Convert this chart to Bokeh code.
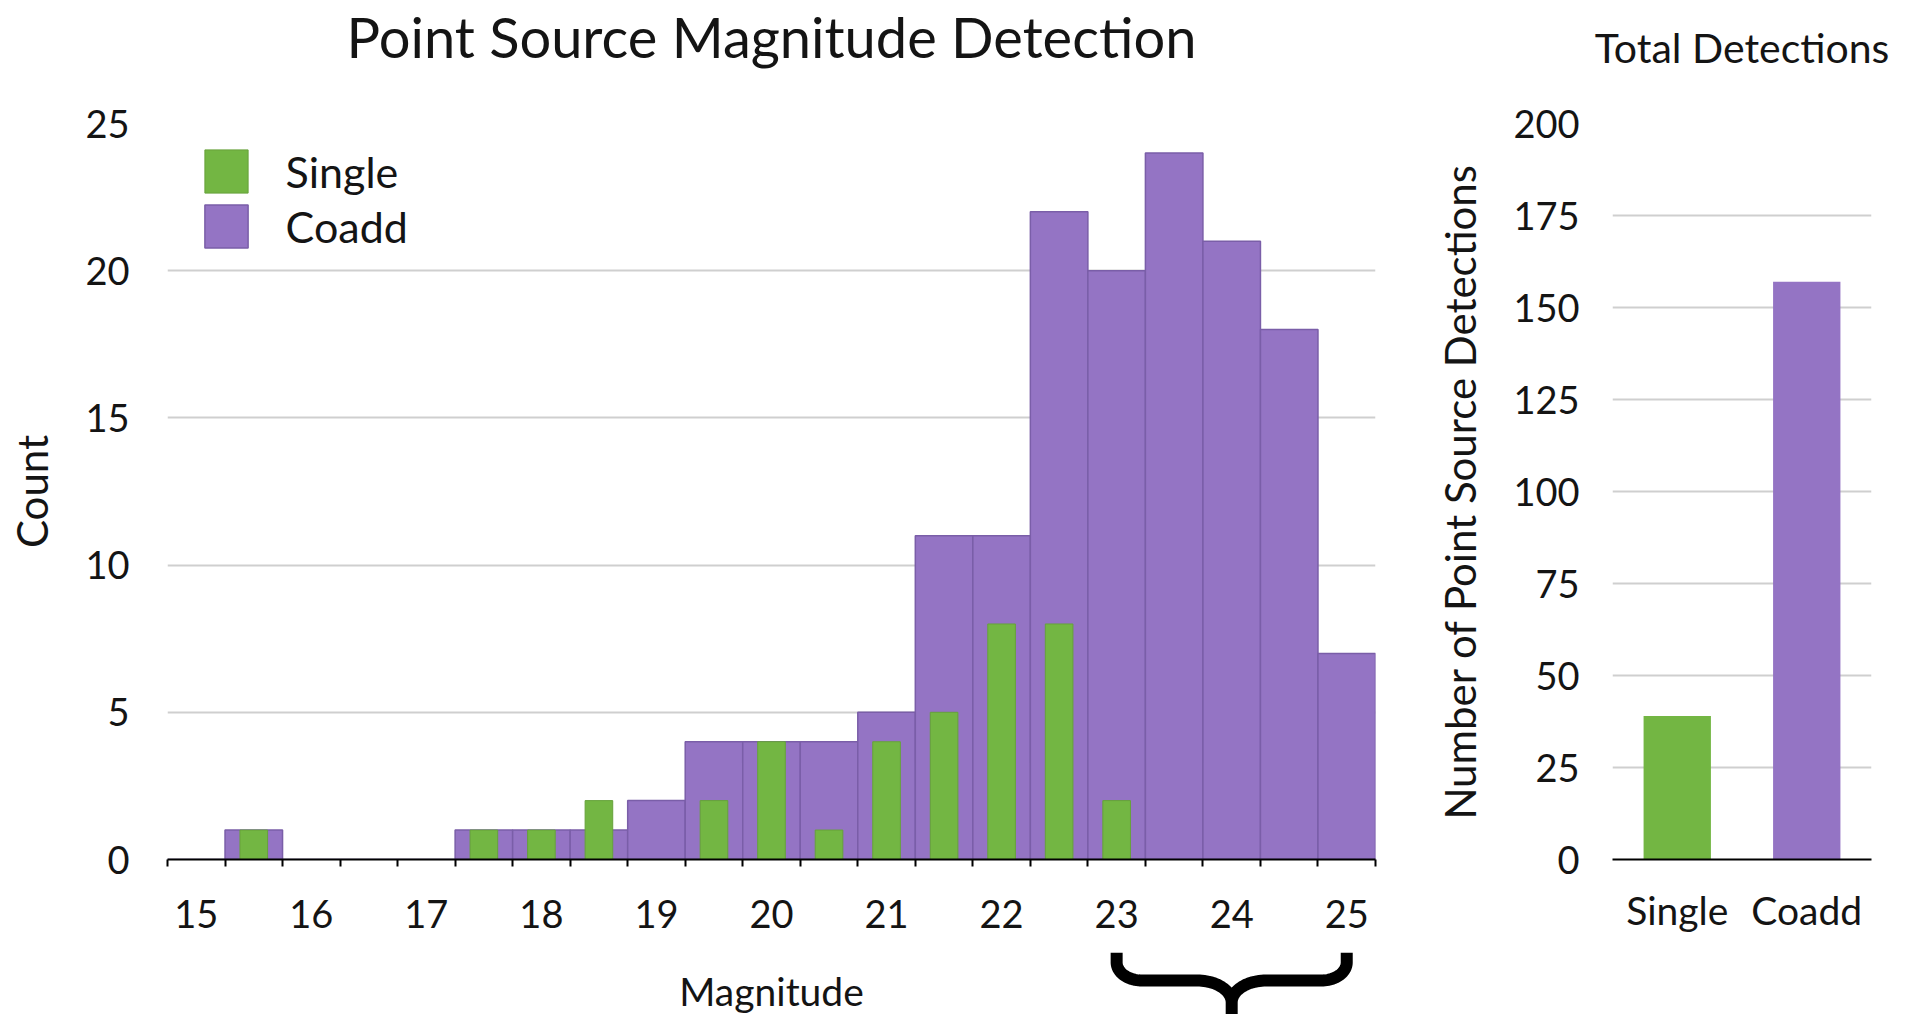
import numpy as np
from bokeh.plotting import figure
from bokeh.models import (Range1d, FactorRange, FixedTicker, Legend, LegendItem,
                          ColumnDataSource, Title)
from bokeh.core.properties import value
from bokeh.layouts import row, column
from bokeh.embed import file_html
from bokeh.resources import INLINE

# ---------------- data ----------------
magnitude = [15.0, 15.5, 16.0, 16.5, 17.0, 17.5, 18.0, 18.5, 19.0, 19.5, 20.0,
             20.5, 21.0, 21.5, 22.0, 22.5, 23.0, 23.5, 24.0, 24.5, 25.0]
coadd_counts = [0, 1, 0, 0, 0, 1, 1, 1, 2, 4, 4, 4, 5, 11, 11, 22, 20, 24, 21, 18, 7]
single_counts = [0, 1, 0, 0, 0, 1, 1, 2, 0, 2, 4, 1, 4, 5, 8, 8, 2, 0, 0, 0, 0]
x_tick_labels = [15, 16, 17, 18, 19, 20, 21, 22, 23, 24, 25]
count_ticks = [0, 5, 10, 15, 20, 25]

total_categories = ["Single", "Coadd"]
total_detections = [39, 157]
total_ticks = [0, 25, 50, 75, 100, 125, 150, 175, 200]

brace_span = [23.0, 25.0]   # magnitude range marked by the brace

# ---------------- style ----------------
FONT = "Lato"
TXT = "#141414"
GREEN = "#73b643"
PURPLE = "#9474c4"
GRID = "#cfcfcf"
bin_w = magnitude[1] - magnitude[0]
bin_edges = [m - bin_w / 2 for m in magnitude] + [magnitude[-1] + bin_w / 2]
x_range = Range1d(bin_edges[0], bin_edges[-1])

# ---------------- main histogram ----------------
p = figure(output_backend="svg", toolbar_location=None,
           frame_width=1208, frame_height=736,
           min_border_left=167, min_border_right=25,
           min_border_top=123, min_border_bottom=93,
           x_range=x_range, y_range=Range1d(0, 25))
p.outline_line_color = None
p.background_fill_color = "white"
p.border_fill_color = "white"

p.add_layout(Title(text=" ", text_font_size="2px", standoff=49.5), "above")
p.add_layout(Title(text="Point Source Magnitude Detection", align="center",
                   text_font=FONT, text_font_size="56px", text_font_style="normal",
                   text_color=TXT, standoff=0), "above")

src = ColumnDataSource(dict(x=magnitude, coadd=coadd_counts, single=single_counts))
r_coadd = p.vbar(x="x", top="coadd", width=bin_w, source=src,
                 fill_color=PURPLE, line_color="#7a5ea8", line_width=1.5)
r_single = p.vbar(x="x", top="single", width=bin_w * 0.48, source=src,
                  fill_color=GREEN, line_color="#66a23a", line_width=1)

p.xaxis.ticker = FixedTicker(ticks=x_tick_labels, minor_ticks=bin_edges)
p.xaxis.axis_line_color = "black"
p.xaxis.axis_line_width = 2
p.xaxis.major_tick_line_color = None
p.xaxis.minor_tick_line_color = "black"
p.xaxis.minor_tick_line_width = 2
p.xaxis.minor_tick_in = 0
p.xaxis.minor_tick_out = 7
p.xaxis.major_label_standoff = 33
p.xaxis.major_label_text_font = FONT
p.xaxis.major_label_text_font_size = "38px"
p.xaxis.major_label_text_color = TXT

p.yaxis.ticker = FixedTicker(ticks=count_ticks)
p.yaxis.axis_line_color = None
p.yaxis.major_tick_line_color = None
p.yaxis.minor_tick_line_color = None
p.yaxis.major_label_standoff = 32
p.yaxis.major_label_text_font = FONT
p.yaxis.major_label_text_font_size = "38px"
p.yaxis.major_label_text_color = TXT
p.yaxis.axis_label = "Count"
p.yaxis.axis_label_text_font = FONT
p.yaxis.axis_label_text_font_size = "42px"
p.yaxis.axis_label_text_font_style = "normal"
p.yaxis.axis_label_text_color = TXT
p.yaxis.axis_label_standoff = 25

p.xgrid.grid_line_color = None
p.ygrid.ticker = FixedTicker(ticks=count_ticks)
p.ygrid.grid_line_color = GRID
p.ygrid.grid_line_width = 2

legend = Legend(items=[LegendItem(label="Single", renderers=[r_single]),
                       LegendItem(label="Coadd", renderers=[r_coadd])],
                location=(31.6, 606), orientation="vertical",
                glyph_width=54, glyph_height=54, label_height=54,
                spacing=1, padding=0, margin=0, label_standoff=33,
                label_text_font=FONT, label_text_font_size="43px",
                label_text_color=TXT,
                border_line_color=None, background_fill_alpha=0)
p.add_layout(legend, "center")

# ---------------- strip below the axis: brace + axis title ----------------
b = figure(output_backend="svg", toolbar_location=None,
           frame_width=1208, frame_height=62,
           min_border_left=167, min_border_right=25,
           min_border_top=0, min_border_bottom=0,
           x_range=x_range, y_range=Range1d(0, 62),
           x_axis_location=None, y_axis_location=None)
b.outline_line_color = None
b.grid.visible = False

x0, x1 = brace_span
xc = (x0 + x1) / 2
y_top, y_arm, y_mid, y_tipc, y_tip = 62, 52, 34, 12, -2
rx1, rx2 = 0.22, 0.3
t = np.linspace(0, np.pi / 2, 24)
left_x = x0 + rx1 - rx1 * np.cos(t)
left_y = y_arm - (y_arm - y_mid) * np.sin(t)
tip_x = xc - rx2 + rx2 * np.sin(t)
tip_y = y_tipc + (y_mid - y_tipc) * np.cos(t)
half_x = [x0] + list(left_x) + list(tip_x) + [xc]
half_y = [y_top] + list(left_y) + list(tip_y) + [y_tip]
brace_x = half_x + [2 * xc - v for v in reversed(half_x)]
brace_y = half_y + list(reversed(half_y))
b.line(brace_x, brace_y, line_color="black", line_width=12, line_join="round")

b.text(x=[(bin_edges[0] + bin_edges[-1]) / 2], y=[24], text=["Magnitude"],
       text_font=value(FONT), text_font_size="39px", text_color=TXT,
       text_align="center", text_baseline="middle")

# ---------------- totals ----------------
q = figure(output_backend="svg", toolbar_location=None,
           frame_width=259, frame_height=736,
           min_border_left=212, min_border_right=30,
           min_border_top=123, min_border_bottom=155,
           x_range=FactorRange(factors=total_categories), y_range=Range1d(0, 200))
q.outline_line_color = None
q.add_layout(Title(text=" ", text_font_size="2px", standoff=48), "above")
q.add_layout(Title(text="Total Detections", align="center",
                   text_font=FONT, text_font_size="41px", text_font_style="normal",
                   text_color=TXT, standoff=0), "above")

tsrc = ColumnDataSource(dict(cat=total_categories, val=total_detections, color=[GREEN, PURPLE]))
q.vbar(x="cat", top="val", width=0.52, source=tsrc, fill_color="color", line_color=None)

q.xaxis.axis_line_color = "black"
q.xaxis.axis_line_width = 2
q.xaxis.major_tick_line_color = None
q.xaxis.minor_tick_line_color = None
q.xaxis.major_label_standoff = 21
q.xaxis.major_label_text_font = FONT
q.xaxis.major_label_text_font_size = "39px"
q.xaxis.major_label_text_color = TXT

q.yaxis.ticker = FixedTicker(ticks=total_ticks)
q.yaxis.axis_line_color = None
q.yaxis.major_tick_line_color = None
q.yaxis.minor_tick_line_color = None
q.yaxis.major_label_standoff = 27
q.yaxis.major_label_text_font = FONT
q.yaxis.major_label_text_font_size = "38px"
q.yaxis.major_label_text_color = TXT
q.yaxis.axis_label = "Number of Point Source Detections"
q.yaxis.axis_label_text_font = FONT
q.yaxis.axis_label_text_font_size = "42px"
q.yaxis.axis_label_text_font_style = "normal"
q.yaxis.axis_label_text_color = TXT
q.yaxis.axis_label_standoff = 25

q.xgrid.grid_line_color = None
q.ygrid.ticker = FixedTicker(ticks=total_ticks)
q.ygrid.grid_line_color = GRID
q.ygrid.grid_line_width = 2

layout = row(column(p, b), q)
open("out.html", "w").write(file_html(layout, INLINE))
